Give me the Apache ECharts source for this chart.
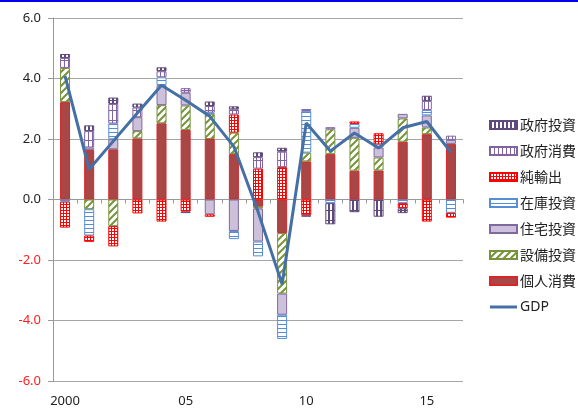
<!DOCTYPE html>
<html>
<head>
<meta charset="utf-8">
<script src="https://cdn.jsdelivr.net/npm/echarts@6/dist/echarts.min.js"></script>
<style>
  html, body { margin: 0; padding: 0; background: #fff; }
  #chart { width: 578px; height: 408px; }
</style>
</head>
<body>
<div id="chart"></div>
<script>
// 年（2000〜2016）
const years = ['2000', '01', '02', '03', '04', '05', '06', '07', '08', '09', '10', '11', '12', '13', '14', '15', '16']
// 寄与度
const kojin = [3.22, 1.64, 1.66, 2.02, 2.52, 2.30, 2.00, 1.50, -0.24, -1.11, 1.26, 1.50, 0.95, 0.96, 1.91, 2.16, 1.84]
const setsubi = [1.13, -0.32, -0.88, 0.24, 0.60, 0.81, 0.82, 0.71, -0.06, -2.00, 0.29, 0.82, 1.09, 0.43, 0.77, 0.22, null]
const jutaku = [null, 0.08, 0.33, 0.46, 0.66, 0.42, -0.49, -1.04, -1.09, -0.70, null, null, 0.33, 0.33, 0.15, 0.40, 0.13]
const zaiko = [-0.07, -0.87, 0.52, null, 0.26, null, 0.05, -0.27, -0.49, -0.80, 1.38, -0.12, 0.13, 0.10, -0.12, 0.18, -0.44]
const junyushutsu = [-0.86, -0.21, -0.67, -0.46, -0.73, -0.40, -0.08, 0.60, 1.02, 1.07, -0.52, null, 0.08, 0.37, -0.17, -0.73, -0.16]
const seifuShohi = [0.33, 0.54, 0.65, 0.32, 0.20, 0.15, 0.22, 0.17, 0.38, 0.51, 0.06, 0.07, null, null, null, 0.30, 0.14]
const seifuToshi = [0.13, 0.19, 0.21, 0.13, 0.13, -0.05, 0.15, 0.10, 0.16, 0.13, -0.05, -0.70, -0.42, -0.57, -0.16, 0.17, null]
const gdp = [4.08, 1.0, 1.93, 2.86, 3.78, 3.28, 2.75, 1.75, -0.4, -2.8, 2.53, 1.6, 2.2, 1.7, 2.37, 2.58, 1.56]

// 模様（キャンバスのタイル）
function tile (w, h, draw) {
  const c = document.createElement('canvas')
  c.width = w
  c.height = h
  const ctx = c.getContext('2d')
  ctx.fillStyle = '#fff'
  ctx.fillRect(0, 0, w, h)
  draw(ctx, w, h)
  return { image: c, repeat: 'repeat' }
}

const diagGreen = tile(7, 7, (ctx, w, h) => {
  ctx.strokeStyle = '#77933C'
  ctx.lineWidth = 2
  ctx.beginPath()
  ctx.moveTo(-1, h + 1); ctx.lineTo(w + 1, -1)
  ctx.moveTo(-4, 4); ctx.lineTo(4, -4)
  ctx.moveTo(3, 11); ctx.lineTo(11, 3)
  ctx.stroke()
})
const horizBlue = tile(4, 4, (ctx) => {
  ctx.fillStyle = '#558ED5'
  ctx.fillRect(0, 0, 4, 1)
})
const gridRed = tile(3, 3, (ctx) => {
  ctx.fillStyle = '#FF0000'
  ctx.fillRect(0, 0, 3, 3)
  ctx.fillStyle = '#fff'
  ctx.fillRect(1, 1, 2, 2)
})
const vertPurple = tile(4, 10, (ctx) => {
  ctx.fillStyle = '#8064A2'
  ctx.fillRect(0, 0, 1, 10)
  ctx.fillRect(0, 0, 4, 1)
})
const vertDark = tile(4, 10, (ctx) => {
  ctx.fillStyle = '#5F497A'
  ctx.fillRect(0, 0, 2, 10)
  ctx.fillRect(0, 0, 4, 1)
})

function barSeries (name, data, color, border) {
  return {
    name: name,
    type: 'bar',
    stack: 'total',
    barWidth: 10,
    xAxisIndex: 0,
    itemStyle: { color: color, borderColor: border, borderWidth: 1 },
    emphasis: { disabled: true },
    data: data
  }
}

const chart = echarts.init(document.getElementById('chart'))
const font = '"Noto Sans", "Noto Sans CJK JP", sans-serif'

chart.setOption({
  animation: false,
  textStyle: { fontFamily: font },
  grid: { left: 53, right: 115, top: 18, bottom: 24 },
  graphic: [
    { type: 'rect', left: 0, top: 0, shape: { width: 578, height: 2 }, style: { fill: '#0000EE' } }
  ],
  legend: {
    orient: 'vertical',
    left: 484,
    top: 112,
    itemWidth: 27,
    itemHeight: 8,
    itemGap: 10,
    textStyle: { fontSize: 14, color: '#222', lineHeight: 16, fontFamily: '"Noto Sans CJK JP", sans-serif', padding: [0, 0, 0, -2] },
    data: [
      { name: '政府投資', icon: 'rect' },
      { name: '政府消費', icon: 'rect' },
      { name: '純輸出', icon: 'rect' },
      { name: '在庫投資', icon: 'rect' },
      { name: '住宅投資', icon: 'rect' },
      { name: '設備投資', icon: 'rect' },
      { name: '個人消費', icon: 'rect' },
      { name: 'GDP', icon: 'path://M0,0 L27,0 L27,3 L0,3 Z', textStyle: { fontFamily: font } }
    ]
  },
  xAxis: [
    {
      type: 'category',
      data: years,
      position: 'bottom',
      axisLine: { onZero: true, lineStyle: { color: '#999', width: 1 } },
      axisTick: { show: true, interval: 0, length: 4, lineStyle: { color: '#999' } },
      axisLabel: { show: false },
      splitLine: { show: false }
    },
    {
      type: 'category',
      data: years,
      position: 'bottom',
      axisLine: { show: false, onZero: false },
      axisTick: { show: false },
      axisLabel: { interval: 4, fontSize: 13, color: '#222', margin: 14 },
      splitLine: { show: false }
    }
  ],
  yAxis: {
    type: 'value',
    min: -6,
    max: 6,
    interval: 2,
    axisLine: { show: true, lineStyle: { color: '#999' } },
    axisTick: { show: true, length: 5, lineStyle: { color: '#999' } },
    axisLabel: {
      fontSize: 13,
      margin: 12,
      formatter: (v) => v.toFixed(1),
      color: (v) => (Number(v) < 0 ? '#FF2020' : '#222')
    },
    splitLine: { lineStyle: { color: '#A6A6A6', width: 1 } }
  },
  series: [
    barSeries('個人消費', kojin, '#A84745', '#D8262A'),
    barSeries('設備投資', setsubi, diagGreen, '#77933C'),
    barSeries('住宅投資', jutaku, '#CCC0DA', '#7F6A9F'),
    barSeries('在庫投資', zaiko, horizBlue, '#558ED5'),
    barSeries('純輸出', junyushutsu, gridRed, '#FF0000'),
    barSeries('政府消費', seifuShohi, vertPurple, '#8064A2'),
    barSeries('政府投資', seifuToshi, vertDark, '#5F497A'),
    {
      name: 'GDP',
      type: 'line',
      xAxisIndex: 0,
      symbol: 'none',
      lineStyle: { color: '#4470A6', width: 3 },
      itemStyle: { color: '#4470A6' },
      emphasis: { disabled: true },
      data: gdp,
      z: 5
    }
  ]
})
</script>
</body>
</html>
